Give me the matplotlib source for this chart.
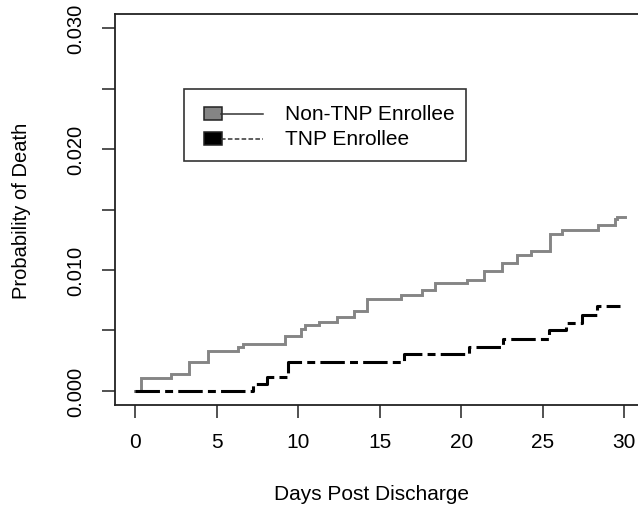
import matplotlib
matplotlib.use("Agg")
import matplotlib.pyplot as plt
from matplotlib.patches import Rectangle
from matplotlib.lines import Line2D

plt.rcParams['font.family'] = ['Liberation Sans', 'DejaVu Sans']

# Data
non_tnp_days = [0, 0.35, 2.2, 3.3, 4.45, 6.3, 6.6, 9.2, 10.2, 10.4, 11.25, 12.4, 13.4, 14.2,
                16.3, 17.6, 18.4, 20.35, 21.4, 22.5, 23.4, 24.3, 25.45, 26.2, 28.4, 29.4,
                29.55, 30.05]
non_tnp_prob = [0, 0.00105, 0.00138, 0.0024, 0.0033, 0.0036, 0.0039, 0.0045, 0.0051, 0.0054,
                0.0057, 0.0061, 0.0066, 0.0076, 0.0079, 0.0083, 0.0089, 0.0092, 0.0099, 0.0106,
                0.0112, 0.0116, 0.0130, 0.0133, 0.0137, 0.0142, 0.01435, 0.01435]
tnp_days = [0, 7.25, 8.1, 9.4, 16.5, 20.45, 22.55, 25.4, 26.4, 27.4, 28.3, 29.75]
tnp_prob = [0, 0.00055, 0.0011, 0.00235, 0.0030, 0.0036, 0.0043, 0.0050, 0.0056, 0.0063,
            0.0070, 0.0070]

x_ticks = [0, 5, 10, 15, 20, 25, 30]
y_ticks = [0.000, 0.005, 0.010, 0.015, 0.020, 0.025, 0.030]
y_ticklabels = ["0.000", "", "0.010", "", "0.020", "", "0.030"]
series_names = ["Non-TNP Enrollee", "TNP Enrollee"]

W, H = 638, 506
fig = plt.figure(figsize=(W / 100, H / 100), dpi=100)

def fx(px):
    return px / W

def fy(py):
    return 1 - py / H

L, R, T, B = 115, 644, 15, 406
ax = fig.add_axes([fx(L), fy(B), fx(R) - fx(L), fy(T) - fy(B)])

gray = '#858585'
ax.step(non_tnp_days, non_tnp_prob, where='post', color=gray, lw=2.1, solid_joinstyle='miter')
ax.step(tnp_days, tnp_prob, where='post', color='black', lw=2.2,
        linestyle=(0, (8.0, 1.7, 2.6, 1.7)), dash_capstyle='butt')

ax.set_xlim(-1.23, 31.2)
ax.set_ylim(-0.00118, 0.03118)

fs_h = 15
fs_v = 14.5

ax.set_xticks(x_ticks)
ax.set_xticklabels([str(v) for v in x_ticks], fontsize=fs_h)
ax.set_yticks(y_ticks)
ax.set_yticklabels(y_ticklabels, rotation=90, va='center', fontsize=fs_v)

ax.tick_params(axis='both', direction='out', length=9.5, width=1.2, color='#333333',
               labelcolor='black')
ax.tick_params(axis='x', pad=10)
ax.tick_params(axis='y', pad=12)
for s in ax.spines.values():
    s.set_linewidth(1.3)
    s.set_color('#222222')

ax.set_xlabel("Days Post Discharge", fontsize=fs_h)
ax.set_ylabel("Probability of Death", fontsize=fs_v)
ax.xaxis.set_label_coords((372 - L) / (R - L), -(485 - B) / (B - T))
ax.yaxis.set_label_coords(-(L - 31) / (R - L), 0.5)

# Legend (drawn manually in figure pixels)
lx0, lx1, ly0, ly1 = 184, 466, 90, 162
fig.patches.append(Rectangle((fx(lx0), fy(ly1)), fx(lx1) - fx(lx0), fy(ly0) - fy(ly1),
                             transform=fig.transFigure, fill=False, edgecolor='#333333',
                             lw=1.2, figure=fig))
rows = [(114.7, gray, '-'), (139.5, 'black', (0, (3, 1.5)))]
for (cy, col, ls), name in zip(rows, series_names):
    fig.add_artist(Line2D([fx(221), fx(263)], [fy(cy), fy(cy)], color='#333333', lw=1.1,
                          linestyle=ls, transform=fig.transFigure))
    fig.patches.append(Rectangle((fx(204), fy(cy + 6.5)), fx(17.5), 13 / H,
                                 transform=fig.transFigure, facecolor=col,
                                 edgecolor='#222222', lw=1.1, figure=fig))
    fig.text(fx(285), fy(cy), name, fontsize=fs_h, va='center', ha='left')

fig.savefig("out.png", dpi=100)
